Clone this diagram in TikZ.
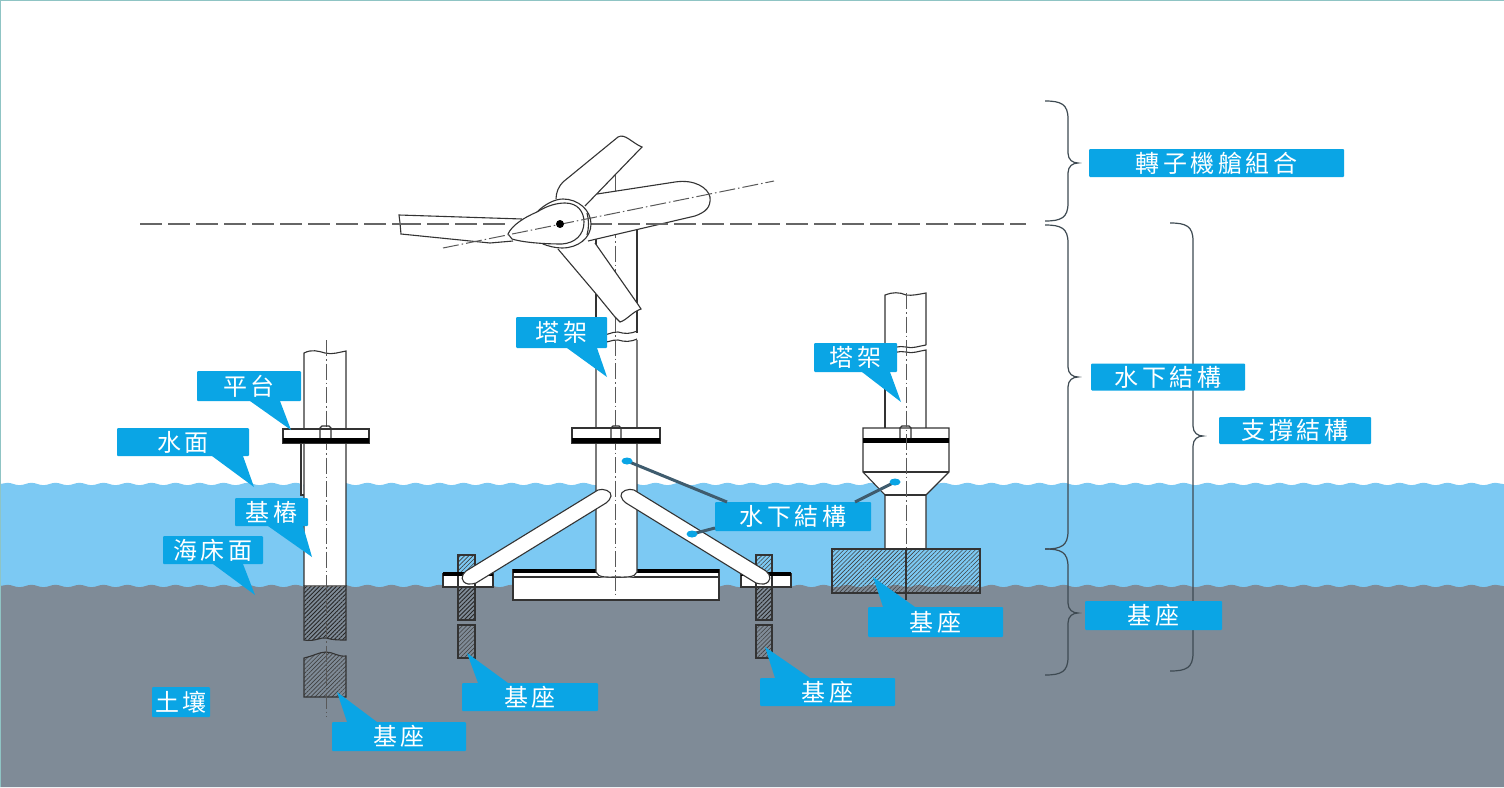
\documentclass[tikz,border=0pt]{standalone}
\usepackage{fontspec}
\usepackage{xcolor}
\usepackage{tikz}
\usetikzlibrary{decorations.pathmorphing,patterns.meta}
\newfontfamily\cjk[LetterSpace=15]{Noto Sans CJK TC}
\definecolor{waterblue}{HTML}{7CC9F3}
\definecolor{soilgrey}{HTML}{7F8B97}
\definecolor{labelblue}{HTML}{0AA5E5}
\definecolor{leadergrey}{HTML}{3F5C6E}
\definecolor{framegreen}{HTML}{8FC4C4}
\definecolor{bracketgrey}{HTML}{3E4A52}
\tikzset{
  labelbox/.style={fill=labelblue,text=white,inner sep=0pt,outer sep=0pt,rounded corners=1pt,font=\cjk\fontsize{24}{24}\selectfont},
  partline/.style={draw=black!80,line width=1.1pt},
  axisline/.style={black!65,line width=1pt,dash pattern=on 16pt off 3pt on 1.5pt off 3pt},
  heightline/.style={black!60,line width=1.1pt,dash pattern=on 22pt off 6pt},
  bracketline/.style={bracketgrey,line width=1.2pt},
  leaderline/.style={leadergrey,line width=3pt},
  hatchdark/.style={pattern={Lines[angle=45,distance=3pt,line width=.9pt]},pattern color=black!85},
  hatchlight/.style={pattern={Lines[angle=45,distance=3pt,line width=.6pt]},pattern color=black!75}
}
% 右側大括號：x、上端、下端、尖端的 y
\newcommand{\sidebrace}[4]{
  \draw [bracketline] (#1,#2) .. controls (#1+16,#2) and (#1+23,#2+3) .. (#1+23,#2+18)
    -- (#1+23,#4-10) .. controls (#1+23,#4-3) and (#1+28,#4) .. (#1+33,#4)
    .. controls (#1+28,#4) and (#1+23,#4+3) .. (#1+23,#4+10)
    -- (#1+23,#3-18) .. controls (#1+23,#3-3) and (#1+16,#3) .. (#1,#3);
}
\begin{document}
\begin{tikzpicture}[x=1pt,y=-1pt]
  \useasboundingbox (0,0) rectangle (1504,787);
  \fill [white] (0,0) rectangle (1504,787);
  % 海水與土壤
  \fill [waterblue] decorate [decoration={snake,amplitude=1.2pt,segment length=24pt}] {(0,484) -- (1504,484)} -- (1504,590) -- (0,590) -- cycle;
  \fill [soilgrey] decorate [decoration={snake,amplitude=1.2pt,segment length=24pt}] {(0,586) -- (1504,586)} -- (1504,787) -- (0,787) -- cycle;
  \draw [framegreen,line width=1pt] (0,787) -- (0,0) -- (1504,0) -- (1504,787);

  % 左：單樁
  \fill [white] (304,353) rectangle (346,587);
  \draw [partline,fill=white] (301,443) -- (301,495) -- (304,495);
  \draw [partline] (304,586) -- (304,353) .. controls (312,349) and (318,351) .. (325,353) .. controls (332,355) and (340,352) .. (346,351) -- (346,586);
  \draw [partline,hatchdark] (304,586) -- (304,640) .. controls (315,642) and (320,637) .. (326,638) .. controls (333,640) and (338,640) .. (346,640) -- (346,586) -- cycle;
  \draw [partline,hatchlight] (304,658) .. controls (313,656) and (320,652) .. (326,652) .. controls (333,652) and (338,657) .. (346,656) -- (346,697) -- (304,697) -- cycle;
  \draw [axisline] (326,340) -- (326,717);
  \draw [partline,fill=white] (283,429) rectangle (369,443);
  \fill [black] (283,438) rectangle (369,443);
  \draw [partline] (320,438) -- (320,428) -- (322,426) -- (329,426) -- (331,428) -- (331,438);

  % 中：三腳架
  \draw [partline,fill=white] (513,570) rectangle (719,600);
  \fill [black] (513,569) rectangle (719,573);
  \draw [partline] (513,577) -- (719,577);
  \fill [white] (596,224) rectangle (637,570);
  \fill [white] (596,570) -- (637,570) -- (637,572) .. controls (636,580) and (625,577) .. (616,577) .. controls (607,577) and (597,580) .. (596,572) -- cycle;
  \fill [white] (594,333) rectangle (640,340);
  \draw [partline] (596,230) -- (596,333) (637,230) -- (637,333);
  \draw [partline] (596,340) -- (596,572) .. controls (598,578) and (607,577) .. (616,577) .. controls (625,577) and (635,578) .. (637,572) -- (637,340);
  \draw [partline] (596,333) .. controls (605,338) and (612,331) .. (618,332) .. controls (625,334) and (630,334) .. (637,331);
  \draw [partline] (596,341) .. controls (605,345) and (612,339) .. (618,340) .. controls (625,342) and (630,342) .. (637,339);
  \draw [axisline] (615,175) -- (615,595);
  \draw [partline,fill=white] (572,428) rectangle (660,443);
  \fill [black] (572,438) rectangle (660,443);
  \draw [partline] (611,438) -- (611,428) -- (613,426) -- (619,426) -- (621,428) -- (621,438);
  % 斜撐與樁
  \foreach \px/\pw/\pl/\pr in {458/17/443/493,756/16/741/791}{
    \draw [partline,hatchlight] (\px,555) rectangle (\px+\pw,573);
    \draw [partline,fill=white] (\pl,574) rectangle (\pr,587);
    \fill [black] (\pl,572) rectangle (\pr,576);
    \fill [white] (\px,576) rectangle (\px+\pw,587);
    \draw [partline] (\px,576) -- (\px,587) (\px+\pw,576) -- (\px+\pw,587);
    \draw [partline,hatchdark] (\px,587) rectangle (\px+\pw,620);
    \draw [partline,hatchlight] (\px,625) rectangle (\px+\pw,658);
  }
  \draw [partline,fill=white] (468,584) .. controls (460,582) and (461,575) .. (466,571) -- (598,490) .. controls (603,488) and (612,491) .. (611,496) .. controls (611,499) and (608,501) .. (606,503) -- (476,583) .. controls (474,584) and (471,584) .. (468,584) -- cycle;
  \draw [partline,fill=white] (764,584) .. controls (772,582) and (771,575) .. (766,571) -- (634,490) .. controls (629,488) and (620,491) .. (621,496) .. controls (621,499) and (624,501) .. (626,503) -- (756,583) .. controls (758,584) and (761,584) .. (764,584) -- cycle;

  % 右：重力式
  \fill [white] (885,293) rectangle (926,549);
  \draw [partline] (885,345) -- (885,295) .. controls (892,292) and (900,292) .. (906,295) .. controls (912,296) and (920,294) .. (926,293) -- (926,345);
  \draw [partline] (885,345) .. controls (893,350) and (899,345) .. (906,347) .. controls (912,349) and (919,346) .. (926,345);
  \draw [partline] (885,351) .. controls (893,355) and (899,350) .. (906,352) .. controls (912,354) and (919,351) .. (926,350) -- (926,428);
  \draw [partline] (885,351) -- (885,428);
  \draw [partline,fill=white] (863,428) -- (949,428) -- (949,472) -- (926,495) -- (926,549) -- (885,549) -- (885,495) -- (863,472) -- cycle;
  \draw [partline] (863,472) -- (949,472) (885,495) -- (926,495);
  \fill [black] (863,438) rectangle (949,443);
  \draw [partline] (900,438) -- (900,428) -- (902,426) -- (909,426) -- (911,428) -- (911,438);
  \draw [axisline] (906,293) -- (906,549);
  \draw [partline,hatchlight] (832,549) rectangle (980,593);
  \draw [partline] (906,549) -- (906,600);

  % 水平基準線
  \draw [heightline] (140,224) -- (510,224);
  \draw [heightline] (590,224) -- (1026,224);
  % 葉片
  \draw [partline,fill=white] (597,194) -- (675,182) .. controls (695,179) and (708,188) .. (710,197) .. controls (711,207) and (706,212) .. (695,216) -- (588,241);
  \draw [partline,fill=white] (556,199) .. controls (556,192) and (559,186) .. (563,182) -- (618,137) .. controls (625,133) and (632,143) .. (642,147) -- (585,206);
  \draw [partline,fill=white] (558,249) -- (597,295) -- (615,317) -- (620,322) .. controls (627,320) and (632,312) .. (641,309) -- (637,303) -- (595,243);
  \draw [partline,fill=white] (522,219) -- (399,215) -- (400,223) -- (401,234) -- (490,243) -- (513,241);
  \draw [heightline] (399,224) -- (510,224);
  \draw [heightline] (590,224) -- (710,224);
  % 輪轂
  \draw [partline,fill=white] (537,212) .. controls (545,204) and (555,199) .. (563,199) .. controls (578,199) and (591,210) .. (591,224) .. controls (591,238) and (578,248) .. (562,248) .. controls (555,248) and (548,246) .. (543,244) -- cycle;
  \draw [partline] (587,213) .. controls (589,220) and (589,228) .. (587,235);
  \draw [partline,fill=white] (508,234) .. controls (512,225) and (525,217) .. (537,212) .. controls (548,205) and (558,203) .. (565,203) .. controls (578,203) and (584,212) .. (584,222) .. controls (584,235) and (575,243) .. (562,244) .. controls (548,244) and (525,243) .. (512,239) -- cycle;
  \draw [axisline] (443,248) -- (774,181);
  \fill [black] (560,224) circle (4);

  % 大括號
  \sidebrace{1045}{101}{221}{163}
  \sidebrace{1045}{225}{549}{377}
  \sidebrace{1045}{549}{675}{613}
  \sidebrace{1170}{223}{671}{436}

  % 標籤
  \coordinate (tipPlatform) at (291,430);
  \coordinate (tipSurface) at (254,487);
  \coordinate (tipPile) at (312,557);
  \coordinate (tipSeabed) at (255,595);
  \coordinate (tipPileBase) at (337,692);
  \coordinate (tipTowerA) at (607,377);
  \coordinate (tipTowerB) at (901,402);
  \coordinate (tipBaseL) at (467,653);
  \coordinate (tipBaseR) at (765,647);
  \coordinate (tipBlock) at (873,577);
  \coordinate (dotTower) at (627,461);
  \coordinate (dotBrace) at (692,534);
  \coordinate (dotCone) at (895,482);

  \node [labelbox,minimum width=104pt,minimum height=30pt] (lbPlatform) at (249,386) {平台};
  \node [labelbox,minimum width=132pt,minimum height=28pt] (lbSurface) at (183,442) {水面};
  \node [labelbox,minimum width=73pt,minimum height=28pt] (lbPile) at (271.5,512) {基樁};
  \node [labelbox,minimum width=100pt,minimum height=28pt] (lbSeabed) at (213,550) {海床面};
  \node [labelbox,minimum width=58pt,minimum height=30pt] (lbSoil) at (181,702) {土壤};
  \node [labelbox,minimum width=134pt,minimum height=29pt] (lbPileBase) at (399,736.5) {基座};
  \node [labelbox,minimum width=91pt,minimum height=31pt] (lbTowerA) at (561.5,332.5) {塔架};
  \node [labelbox,minimum width=83pt,minimum height=29pt] (lbTowerB) at (855.5,357.5) {塔架};
  \node [labelbox,minimum width=156pt,minimum height=29pt] (lbSub) at (793,516.5) {水下結構};
  \node [labelbox,minimum width=136pt,minimum height=28pt] (lbBaseL) at (530,697) {基座};
  \node [labelbox,minimum width=135pt,minimum height=28pt] (lbBaseR) at (827.5,692) {基座};
  \node [labelbox,minimum width=135pt,minimum height=30pt] (lbBlock) at (935.5,622) {基座};
  \node [labelbox,minimum width=255pt,minimum height=28pt] (lbRotor) at (1216.5,163) {轉子機艙組合};
  \node [labelbox,minimum width=154pt,minimum height=27pt] (lbSubR) at (1168,377) {水下結構};
  \node [labelbox,minimum width=152pt,minimum height=27pt] (lbSupport) at (1295,430.5) {支撐結構};
  \node [labelbox,minimum width=137pt,minimum height=29pt] (lbBaseSide) at (1153.5,615.5) {基座};

  % 引線
  \draw [leaderline] ([xshift=12pt]lbSub.north west) -- (dotTower);
  \draw [leaderline] ([yshift=3pt]lbSub.south west) -- (dotBrace);
  \draw [leaderline] ([xshift=140pt]lbSub.north west) -- (dotCone);
  % 標籤尖角
  \foreach \lb/\sa/\sb/\tip in {lbPlatform/53/83/tipPlatform,lbSurface/95/126/tipSurface,lbPile/33/68/tipPile,lbSeabed/50/80/tipSeabed,lbTowerA/51/81/tipTowerA,lbTowerB/48/76/tipTowerB}{
    \fill [labelblue] ([xshift=\sa pt]\lb.south west) -- (\tip) -- ([xshift=\sb pt]\lb.south west) -- cycle;
  }
  \foreach \lb/\sa/\sb/\tip in {lbPileBase/15/45/tipPileBase,lbBaseL/16/46/tipBaseL,lbBaseR/15/50/tipBaseR,lbBlock/15/47/tipBlock}{
    \fill [labelblue] ([xshift=\sa pt]\lb.north west) -- (\tip) -- ([xshift=\sb pt]\lb.north west) -- cycle;
  }
  \foreach \dotname in {dotTower,dotBrace,dotCone}{
    \fill [labelblue] (\dotname) ellipse [x radius=5.5pt,y radius=3.5pt];
  }
\end{tikzpicture}
\end{document}
